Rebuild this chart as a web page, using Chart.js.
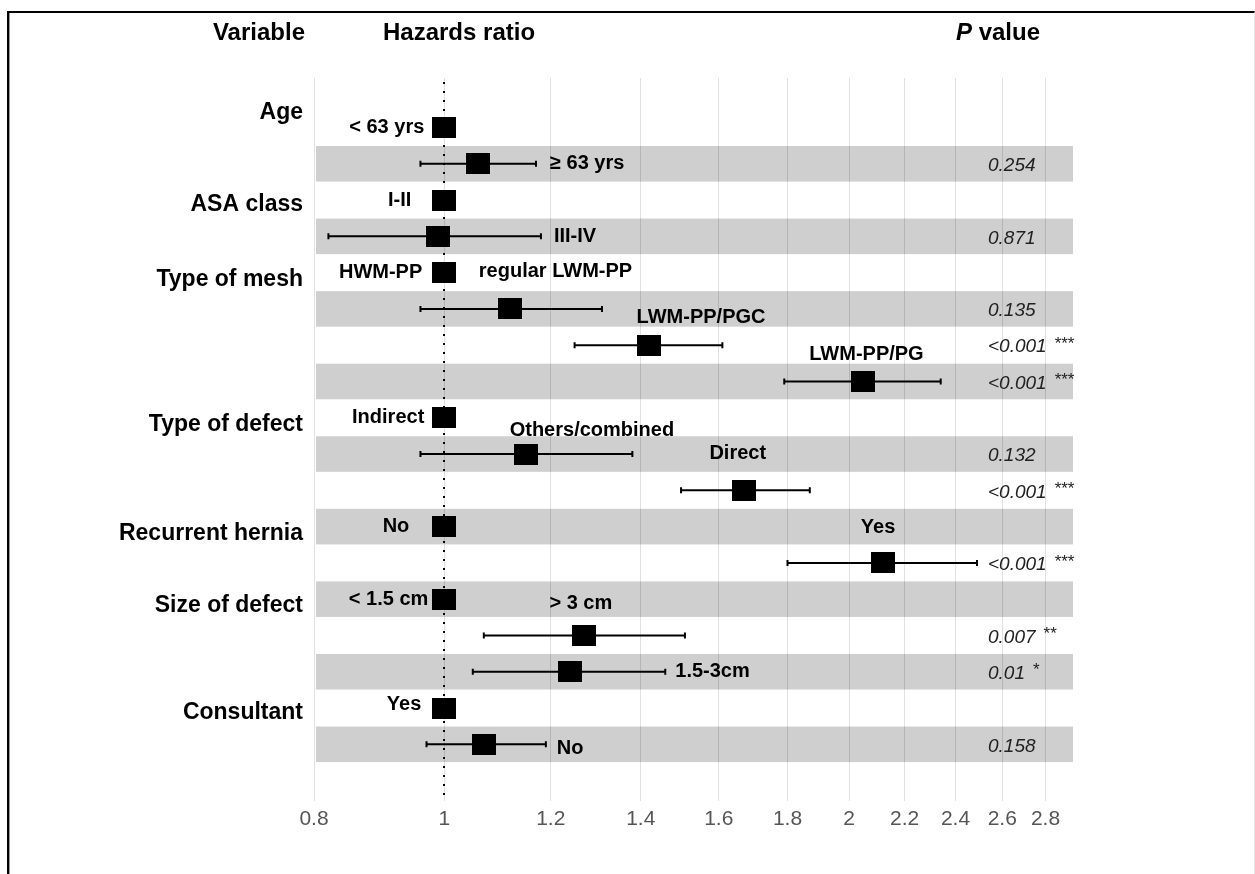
<!DOCTYPE html>
<html>
<head>
<meta charset="utf-8">
<title>Hazards ratio forest plot</title>
<script src="https://cdn.jsdelivr.net/npm/chart.js@4.4.1/dist/chart.umd.min.js"></script>
<style>
  html, body { margin: 0; padding: 0; background: #fff; }
  #wrap { position: relative; width: 1255px; height: 874px; overflow: hidden; }
  #frame {
    position: absolute; left: 7px; top: 11px; width: 1245px; height: 900px;
    border-top: 2px solid #000; border-left: 2px solid #000; border-right: 1px solid #e8e8e8;
    box-shadow: inset 1px 0 0 #999;
  }
  #forest { position: absolute; left: 0; top: 0; }
</style>
</head>
<body>
<div id="wrap">
  <div id="frame"></div>
  <canvas id="forest" width="1255" height="874"></canvas>
</div>
<script>
// variables and the first row each one starts on
const groups = ["Age", "ASA class", "Type of mesh", "Type of defect", "Recurrent hernia", "Size of defect", "Consultant"];
const groupRow = [1, 3, 5, 9, 12, 14, 17];

// one entry per row, top to bottom
const levels = ["< 63 yrs", "≥ 63 yrs", "I-II", "III-IV", "HWM-PP", "regular LWM-PP", "LWM-PP/PGC", "LWM-PP/PG",
  "Indirect", "Others/combined", "Direct", "No", "Yes", "< 1.5 cm", "> 3 cm", "1.5-3cm", "Yes", "No"];
const hr     = [1, 1.06, 1, 0.99, 1, 1.12, 1.42, 2.05, 1, 1.15, 1.67, 1, 2.12, 1, 1.27, 1.24, 1, 1.07];
const ciLow  = [null, 0.96, null, 0.82, null, 0.96, 1.25, 1.79, null, 0.96, 1.50, null, 1.80, null, 1.07, 1.05, null, 0.97];
const ciHigh = [null, 1.17, null, 1.18, null, 1.31, 1.61, 2.34, null, 1.38, 1.87, null, 2.49, null, 1.51, 1.46, null, 1.19];
const pValues = [null, "0.254", null, "0.871", null, "0.135", "<0.001", "<0.001", null, "0.132", "<0.001", null, "<0.001", null, "0.007", "0.01", null, "0.158"];
const pStars  = ["", "", "", "", "", "", "***", "***", "", "", "***", "", "***", "", "**", "*", "", ""];

const xTicks = [0.8, 1, 1.2, 1.4, 1.6, 1.8, 2, 2.2, 2.4, 2.6, 2.8];

// where each level label sits relative to its marker (pixels)
const labelPlace = [
  { side: "left", gap: 8 },
  { side: "right", gap: 14 },
  { side: "left", gap: 21 },
  { side: "right", gap: 13 },
  { side: "left", gap: 10 },
  { side: "above", dx: 45, dy: -37 },
  { side: "above", dx: 52, dy: -28 },
  { side: "above", dx: 3, dy: -27 },
  { side: "left", gap: 8 },
  { side: "above", dx: 66, dy: -24 },
  { side: "above", dx: -6, dy: -37 },
  { side: "left", gap: 23 },
  { side: "above", dx: -5, dy: -35 },
  { side: "left", gap: 4 },
  { side: "above", dx: -3, dy: -32 },
  { side: "right", gap: 10 },
  { side: "left", gap: 11, dy: -4 },
  { side: "right", gap: 11, dy: 4 }
];
const groupDy = [-15, 5, 7, 7, 7, 6, 5];

const FONT = '"Liberation Sans", Arial, Helvetica, sans-serif';

// filled square used as the point marker
const marker = document.createElement("canvas");
marker.width = 24;
marker.height = 21;
const mctx = marker.getContext("2d");
mctx.fillStyle = "#000";
mctx.fillRect(0, 0, 24, 21);

const rows = levels.map((l, i) => i + 1);

// grey stripes on every second row
const stripes = {
  id: "stripes",
  beforeDraw(chart) {
    const { ctx, chartArea, scales } = chart;
    ctx.save();
    ctx.fillStyle = "#cfcfcf";
    rows.forEach(r => {
      if (r % 2 !== 0) return;
      const top = scales.y.getPixelForValue(r - 0.49);
      const bot = scales.y.getPixelForValue(r + 0.49);
      ctx.fillRect(chartArea.left + 2, top, chartArea.right - chartArea.left - 2, bot - top);
    });
    ctx.restore();
  }
};

// reference line at 1 and the confidence intervals
const whiskers = {
  id: "whiskers",
  beforeDatasetsDraw(chart) {
    const { ctx, chartArea, scales } = chart;
    ctx.save();
    const x1 = Math.round(scales.x.getPixelForValue(1));
    ctx.strokeStyle = "#000";
    ctx.lineWidth = 2;
    ctx.setLineDash([2, 7]);
    ctx.beginPath();
    ctx.moveTo(x1, chartArea.top + 4);
    ctx.lineTo(x1, chartArea.bottom);
    ctx.stroke();
    ctx.setLineDash([]);

    ctx.lineWidth = 2;
    rows.forEach((r, i) => {
      if (ciLow[i] == null) return;
      const y = scales.y.getPixelForValue(r);
      const a = scales.x.getPixelForValue(ciLow[i]);
      const b = scales.x.getPixelForValue(ciHigh[i]);
      ctx.beginPath();
      ctx.moveTo(a, y); ctx.lineTo(b, y);
      ctx.moveTo(a, y - 3); ctx.lineTo(a, y + 3);
      ctx.moveTo(b, y - 3); ctx.lineTo(b, y + 3);
      ctx.stroke();
    });
    ctx.restore();
  }
};

// headers, variable names, level names and p values
const texts = {
  id: "texts",
  afterDraw(chart) {
    const { ctx, scales } = chart;
    ctx.save();
    ctx.fillStyle = "#000";
    ctx.textBaseline = "middle";

    ctx.font = "bold 24px " + FONT;
    ctx.textAlign = "right";
    ctx.fillText("Variable", 305, 33);
    ctx.textAlign = "left";
    ctx.fillText("Hazards ratio", 383, 33);
    ctx.font = "italic bold 24px " + FONT;
    ctx.fillText("P", 956, 33);
    const pw = ctx.measureText("P ").width;
    ctx.font = "bold 24px " + FONT;
    ctx.fillText("value", 956 + pw, 33);

    ctx.font = "bold 23px " + FONT;
    ctx.textAlign = "right";
    groups.forEach((g, k) => {
      ctx.fillText(g, 303, scales.y.getPixelForValue(groupRow[k]) + groupDy[k]);
    });

    ctx.font = "bold 20px " + FONT;
    levels.forEach((lab, i) => {
      const p = labelPlace[i];
      const y = scales.y.getPixelForValue(i + 1) + (p.dy || 0);
      const cx = scales.x.getPixelForValue(hr[i]);
      if (p.side === "left") {
        ctx.textAlign = "right";
        ctx.fillText(lab, cx - 12 - p.gap, y);
      } else if (p.side === "right") {
        ctx.textAlign = "left";
        ctx.fillText(lab, scales.x.getPixelForValue(ciHigh[i]) + p.gap, y);
      } else {
        ctx.textAlign = "center";
        ctx.fillText(lab, cx + p.dx, y);
      }
    });

    ctx.fillStyle = "#222";
    ctx.textAlign = "left";
    pValues.forEach((pv, i) => {
      if (pv == null) return;
      const y = scales.y.getPixelForValue(i + 1) + 2;
      ctx.font = "italic 19px " + FONT;
      ctx.fillText(pv, 988, y);
      if (pStars[i]) {
        const w = ctx.measureText(pv).width;
        ctx.font = "17px " + FONT;
        ctx.fillText(pStars[i], 988 + w + 8, y - 3);
      }
    });
    ctx.restore();
  }
};

new Chart(document.getElementById("forest"), {
  type: "scatter",
  data: {
    datasets: [{
      data: rows.map((r, i) => ({ x: hr[i], y: r })),
      pointStyle: marker,
      pointRadius: 12,
      pointHoverRadius: 12
    }]
  },
  options: {
    responsive: false,
    animation: false,
    devicePixelRatio: 1,
    events: [],
    layout: { padding: { left: 314, right: 182, top: 78, bottom: 36 } },
    plugins: { legend: { display: false }, tooltip: { enabled: false } },
    scales: {
      x: {
        type: "logarithmic",
        min: 0.8,
        max: 2.935,
        afterBuildTicks: scale => { scale.ticks = xTicks.map(v => ({ value: v })); },
        grid: { color: "rgba(0,0,0,0.12)", lineWidth: 1, drawTicks: false },
        border: { display: false },
        ticks: {
          callback: v => String(v),
          autoSkip: false,
          maxRotation: 0,
          padding: 6,
          color: "#555",
          font: { family: FONT, size: 21 }
        }
      },
      y: {
        type: "linear",
        reverse: true,
        min: -0.364,
        max: 19.557,
        display: false
      }
    }
  },
  plugins: [stripes, whiskers, texts]
});
</script>
</body>
</html>
